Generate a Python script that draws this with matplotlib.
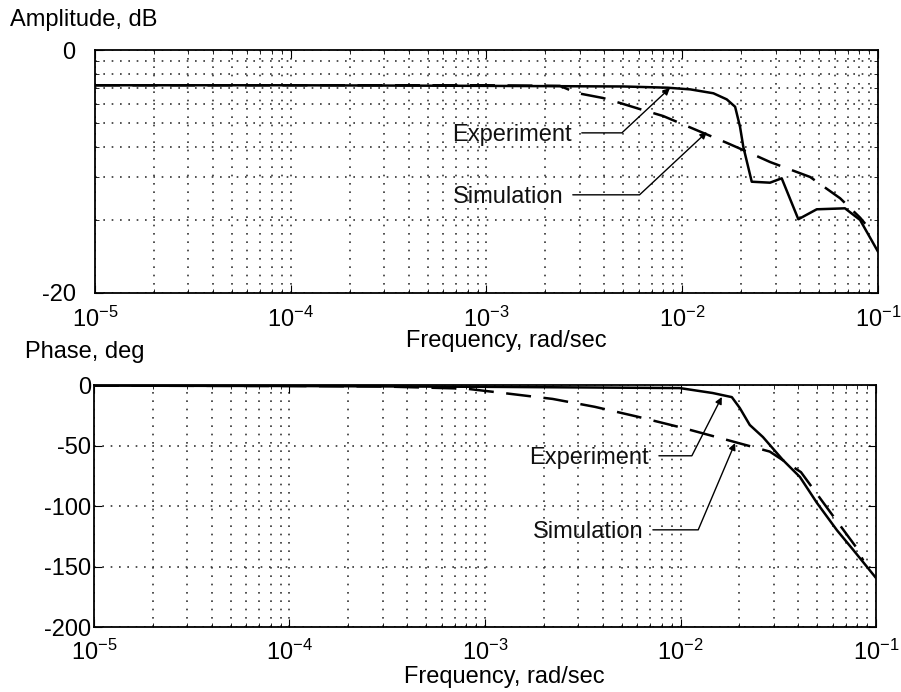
import numpy as np
import matplotlib.pyplot as plt
from matplotlib.ticker import FixedLocator, FixedFormatter, LogLocator, NullFormatter

plt.rcParams['font.family'] = 'Liberation Sans'
plt.rcParams['mathtext.fontset'] = 'custom'
plt.rcParams['mathtext.rm'] = 'Liberation Sans'
plt.rcParams['mathtext.it'] = 'Liberation Sans:italic'
plt.rcParams['axes.unicode_minus'] = False

# amplitude, dB (top panel)
exp_amp_freq = [1e-5, 1e-4, 1e-3, 5e-3, 8.4e-3, 0.0110, 0.01442, 0.01687, 0.01862, 0.01973,
                0.0205, 0.02264, 0.02807, 0.03221, 0.03917, 0.04864, 0.06779, 0.08098, 0.1]
exp_amp_db = [-2.9, -2.9, -2.95, -3.0, -3.1, -3.24, -3.56, -4.06, -4.67, -6.32,
              -7.96, -10.84, -10.92, -10.56, -13.93, -13.11, -13.03, -13.99, -16.6]
sim_amp_freq = [1e-5, 1e-4, 1e-3, 0.00237, 0.0029, 0.00394, 0.00481, 0.0063, 0.00798,
                0.01057, 0.01694, 0.0222, 0.0281, 0.045, 0.064, 0.081, 0.086]
sim_amp_db = [-2.9, -2.9, -2.9, -2.95, -3.54, -3.95, -4.36, -4.94, -5.43,
              -6.26, -7.65, -8.48, -9.22, -10.45, -12.2, -13.8, -14.3]

# phase, deg (bottom panel)
exp_ph_freq = [1e-5, 1e-4, 1e-3, 0.0099, 0.0146, 0.0183, 0.0201, 0.0226, 0.0264,
               0.0334, 0.0408, 0.0499, 0.0631, 0.0762, 0.1]
exp_ph_deg = [-0.5, -0.8, -1.5, -2.5, -6.6, -10, -19, -33, -43,
              -62, -76, -97.5, -120, -136, -159.5]
sim_ph_freq = [1e-5, 1e-4, 3e-4, 8e-4, 1.3e-3, 2.22e-3, 3.64e-3, 5.97e-3, 0.0103,
               0.0161, 0.0286, 0.0413, 0.0589, 0.0791, 0.086]
sim_ph_deg = [-0.5, -0.8, -1.2, -3, -7, -11.5, -18, -26, -35.5,
              -44, -55, -72, -106, -134, -145]

amp_labels = ['Experiment', 'Simulation']
amp_text_pos = [(6.7e-4, -7.0), (6.7e-4, -12.1)]
amp_tip_pos = [(8.65e-3, -3.13), (0.01336, -6.75)]
amp_leader_angle = [43, 43]

ph_labels = ['Experiment', 'Simulation']
ph_text_pos = [(1.69e-3, -60.3), (1.75e-3, -121.5)]
ph_tip_pos = [(0.01626, -9.9), (0.019, -48)]
ph_leader_angle = [63, 67]


def db_to_ratio(db):
    return 10 ** (np.asarray(db, dtype=float) / 20.0)


def style_axes(ax, label_y):
    ax.set_xscale('log')
    ax.set_xlim(1e-5, 1e-1)
    ax.tick_params(which='both', direction='in', top=True, right=True, labelsize=17)
    ax.tick_params(which='major', length=6)
    ax.tick_params(which='minor', length=3)
    for s in ax.spines.values():
        s.set_linewidth(1.3)
    ax.set_xlabel('Frequency, rad/sec', fontsize=17)
    ax.xaxis.set_label_coords(0.525, label_y)


def add_notes(ax, labels, text_pos, tip_pos, angles):
    for lab, tp, tip, ang in zip(labels, text_pos, tip_pos, angles):
        ax.annotate(lab, xy=tip, xytext=tp, ha='left', va='center', fontsize=17,
                    color='#111111',
                    arrowprops=dict(arrowstyle='-|>', color='k', lw=1.0,
                                    connectionstyle=f'angle,angleA=0,angleB={ang},rad=0',
                                    relpos=(1, 0.6), shrinkA=5, shrinkB=0,
                                    mutation_scale=10))


grid_kw = dict(color='#333333', linestyle=(0, (1, 4)), linewidth=1.2)

fig = plt.figure(figsize=(9.01, 6.92), dpi=100)
ax1 = fig.add_axes([0.1054, 0.5766, 0.8691, 0.3511])
ax2 = fig.add_axes([0.1043, 0.0939, 0.8680, 0.3497])

# top: amplitude, plotted as ratio on log axis (0 dB .. -20 dB)
style_axes(ax1, -0.152)
ax1.set_yscale('log')
ax1.set_ylim(0.1, 1)
ax1.yaxis.set_major_locator(FixedLocator([0.1, 1]))
ax1.yaxis.set_major_formatter(FixedFormatter(['-20', '0']))
ax1.yaxis.set_minor_locator(LogLocator(base=10, subs=np.arange(2, 10)))
ax1.yaxis.set_minor_formatter(NullFormatter())
ax1.tick_params(axis='y', pad=14)
ax1.tick_params(axis='x', pad=10)
ax1.grid(which='both', **grid_kw)
ax1.plot(exp_amp_freq, db_to_ratio(exp_amp_db), color='k', lw=1.8)
ax1.plot(sim_amp_freq, db_to_ratio(sim_amp_db), color='k', lw=1.8, dashes=(10, 5))
add_notes(ax1, amp_labels,
          [(x, db_to_ratio(y)) for x, y in amp_text_pos],
          [(x, db_to_ratio(y)) for x, y in amp_tip_pos],
          amp_leader_angle)

# bottom: phase
style_axes(ax2, -0.163)
ax2.set_ylim(-200, 0)
ax2.set_yticks([0, -50, -100, -150, -200])
ax2.tick_params(axis='y', pad=2)
ax2.tick_params(axis='x', pad=9)
ax2.grid(which='major', axis='both', **grid_kw)
ax2.grid(which='minor', axis='x', **grid_kw)
ax2.plot(exp_ph_freq, exp_ph_deg, color='k', lw=1.8)
ax2.plot(sim_ph_freq, sim_ph_deg, color='k', lw=1.8, dashes=(10, 5))
add_notes(ax2, ph_labels, ph_text_pos, ph_tip_pos, ph_leader_angle)

fig.text(0.011, 0.971, 'Amplitude, dB', fontsize=17, va='center', ha='left')
fig.text(0.028, 0.491, 'Phase, deg', fontsize=17, va='center', ha='left')

fig.savefig('out.png', dpi=100)
